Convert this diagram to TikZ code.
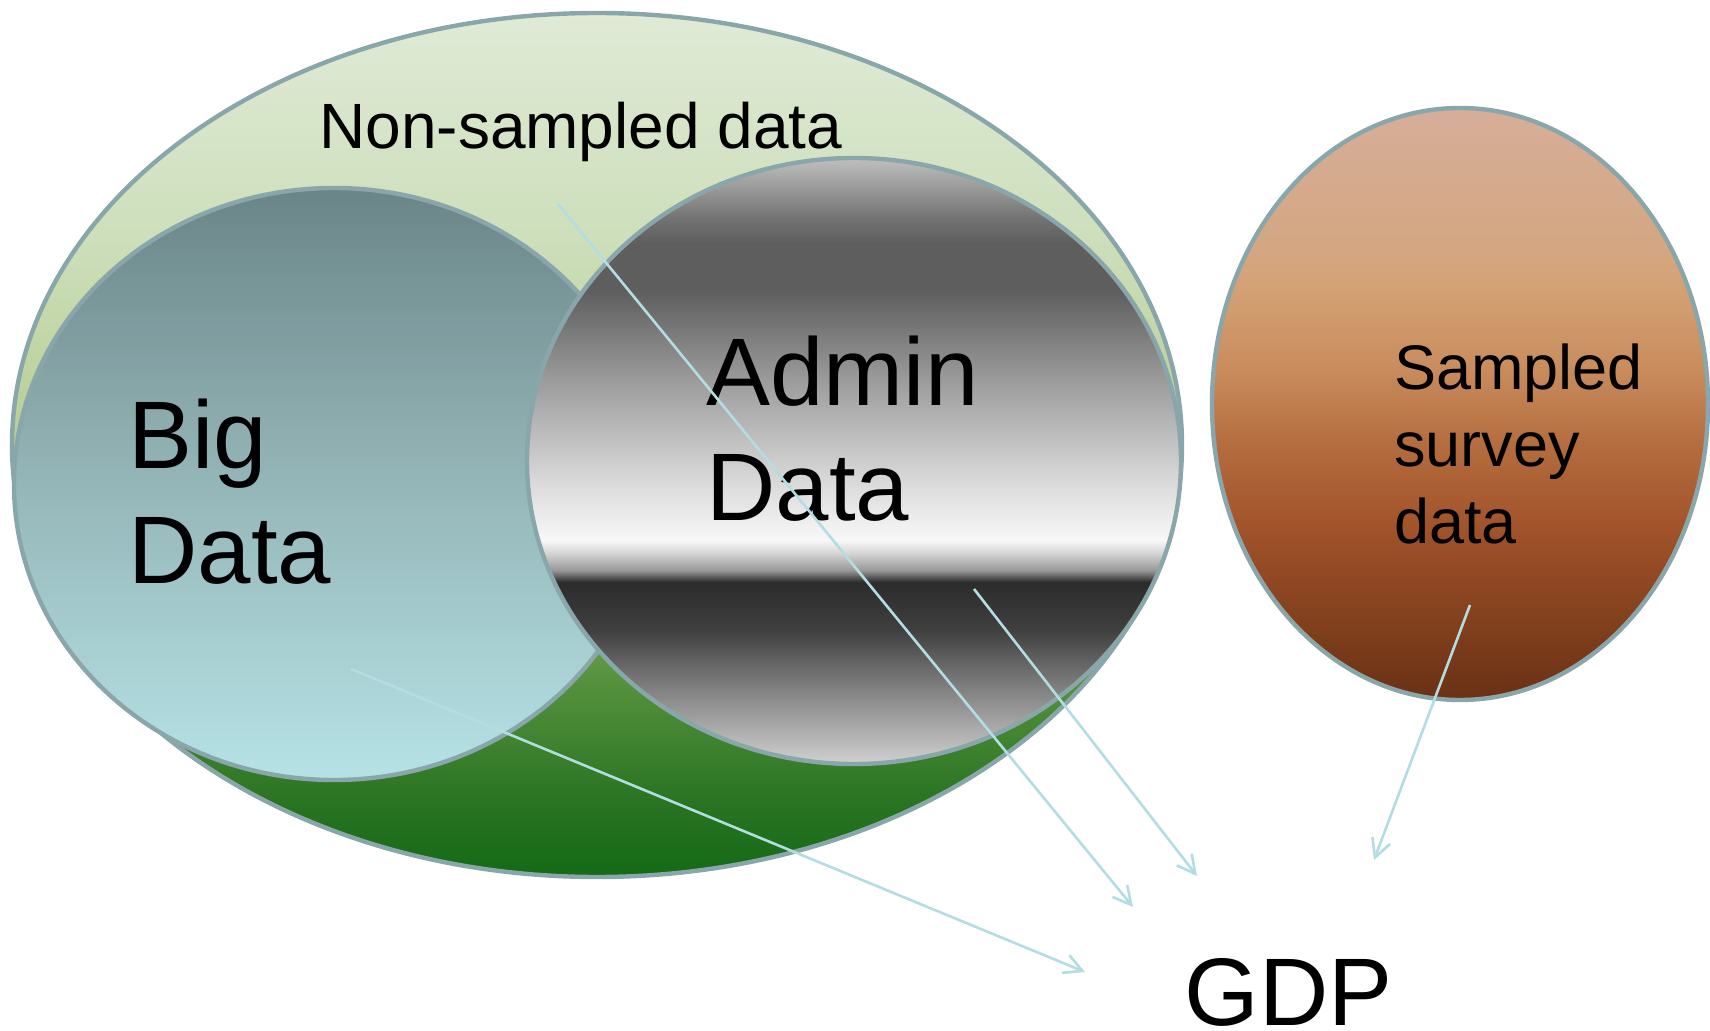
\documentclass[tikz,border=0pt]{standalone}
\usepackage{fontspec}
\setmainfont{Liberation Sans}
\usetikzlibrary{arrows.meta}

\definecolor{rim}{HTML}{89A7AA}
\definecolor{feedcol}{HTML}{B3DDE2}
% outer set, light on top, dark green below
\definecolor{gA}{HTML}{146A16}
\definecolor{gB}{HTML}{2A7422}
\definecolor{gC}{HTML}{5A9440}
\definecolor{gD}{HTML}{AEC687}
\definecolor{gE}{HTML}{B6CD92}
\definecolor{gF}{HTML}{CDDFBB}
\definecolor{gG}{HTML}{E0EAD6}
% big data
\definecolor{bA}{HTML}{B6E2E6}
\definecolor{bB}{HTML}{95B6B8}
\definecolor{bC}{HTML}{6A8588}
% sampled survey
\definecolor{sA}{HTML}{6A3115}
\definecolor{sB}{HTML}{87431F}
\definecolor{sC}{HTML}{A3542B}
\definecolor{sD}{HTML}{B46C3E}
\definecolor{sE}{HTML}{C98C5D}
\definecolor{sF}{HTML}{D4A275}
\definecolor{sG}{HTML}{D4A682}
\definecolor{sH}{HTML}{D6AE99}

\pgfdeclareverticalshading{nonsampled}{100bp}{%
  color(0bp)=(gA); color(25bp)=(gA); color(29.5bp)=(gB); color(37bp)=(gC);
  color(46bp)=(gD); color(50bp)=(gE); color(62bp)=(gF); color(75bp)=(gG);
  color(100bp)=(gG)}
\pgfdeclareverticalshading{bigdata}{100bp}{%
  color(0bp)=(bA); color(25bp)=(bA); color(50bp)=(bB); color(75bp)=(bC);
  color(100bp)=(bC)}
\pgfdeclareverticalshading{admindata}{100bp}{%
  color(0bp)=(black!18); color(25bp)=(black!18); color(27.5bp)=(black!31);
  color(32.5bp)=(black!56); color(36bp)=(black!75); color(40bp)=(black!83);
  color(41bp)=(black!40); color(42.5bp)=(black!15); color(43.5bp)=(black!3);
  color(48bp)=(black!14); color(56bp)=(black!37); color(64bp)=(black!63);
  color(68bp)=(black!63); color(70bp)=(black!55); color(75bp)=(black!25);
  color(100bp)=(black!25)}
\pgfdeclareverticalshading{survey}{100bp}{%
  color(0bp)=(sA); color(25bp)=(sA); color(33bp)=(sB); color(40bp)=(sC);
  color(46.5bp)=(sD); color(53bp)=(sE); color(60bp)=(sF); color(63bp)=(sG);
  color(75bp)=(sH); color(100bp)=(sH)}

\tikzset{
  setrim/.style={draw=rim, line width=2.2pt},
  feed/.style={draw=feedcol, line width=1.3pt, -{Straight Barb[length=9pt,width=9.5pt]}},
  big/.style={font=\fontsize{48}{57.5}\selectfont, inner sep=0pt, align=left},
  small/.style={font=\fontsize{31.5}{38.5}\selectfont, inner sep=0pt, align=left}
}

\begin{document}
\begin{tikzpicture}[x=0.5pt,y=-0.5pt]
  \useasboundingbox (0,0) rectangle (1710,1031);

  \shade[setrim, shading=nonsampled] (597,445) ellipse (585 and 432);
  \shade[setrim, shading=bigdata] (334,484) ellipse (320 and 296);
  \shade[setrim, shading=admindata] (854,461) ellipse (327 and 303);
  \shade[setrim, shading=survey] (1460,404) ellipse (248 and 296);

  \node[small, font=\fontsize{32}{38}\selectfont, anchor=base west] (non) at (319,149) {Non-sampled data};
  \node[big, anchor=north west] (bigtxt) at (128,399) {Big\\Data};
  \node[big, anchor=north west] (admintxt) at (706,336) {Admin\\Data};
  \node[small, anchor=north west] (surveytxt) at (1394,343) {Sampled\\survey\\data};
  \node[big, anchor=base west] (gdp) at (1184,1025) {GDP};

  \coordinate (bigsrc) at (351,669);
  \coordinate (nonsrc) at (558,204);
  \coordinate (adminsrc) at (974,589);
  \coordinate (survsrc) at (1470,605);
  \coordinate (bigtip) at (1085,972);
  \coordinate (nontip) at (1133,907);
  \coordinate (admintip) at (1197,876);
  \coordinate (survtip) at (1374,860);

  \draw[feed] (bigsrc) -- (bigtip);
  \draw[feed] (nonsrc) -- (nontip);
  \draw[feed] (adminsrc) -- (admintip);
  \draw[feed] (survsrc) -- (survtip);
\end{tikzpicture}
\end{document}
